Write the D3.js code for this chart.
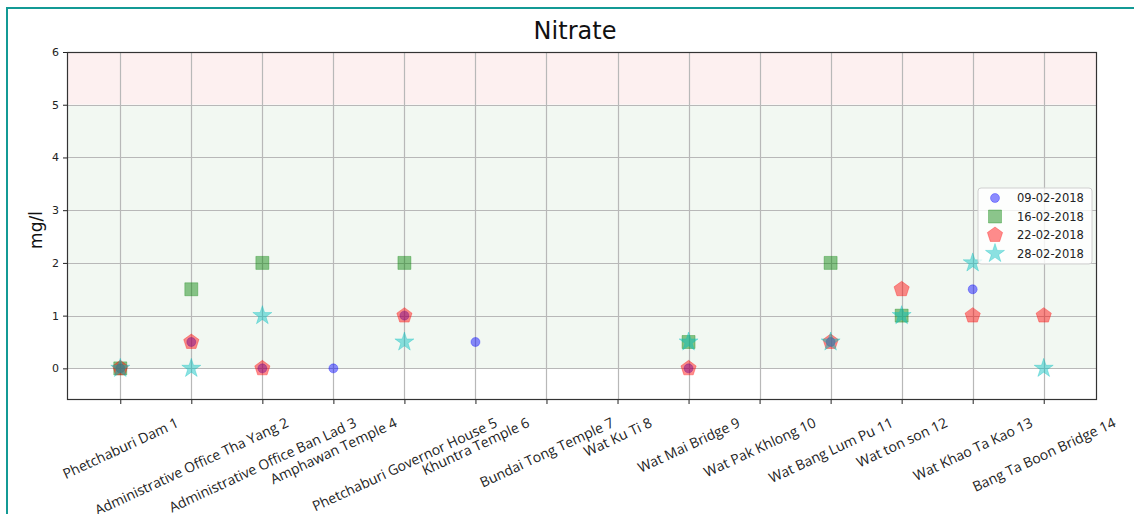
<!DOCTYPE html>
<html><head><meta charset="utf-8">
<script src="https://cdn.jsdelivr.net/npm/d3@7"></script>
<style>body{margin:0;background:#fff;}svg{display:block;}</style>
</head><body><svg id="c" width="1134" height="514"></svg>
<script>
const stations = ["Phetchaburi Dam 1","Administrative Office Tha Yang 2","Administrative Office Ban Lad 3","Amphawan Temple 4","Phetchaburi Governor House 5","Khuntra Temple 6","Bundai Tong Temple 7","Wat Ku Ti 8","Wat Mai Bridge 9","Wat Pak Khlong 10","Wat Bang Lum Pu 11","Wat ton son 12","Wat Khao Ta Kao 13","Bang Ta Boon Bridge 14"];
const dates = ["09-02-2018","16-02-2018","22-02-2018","28-02-2018"];
const v0902 = [0,0.5,0,0,1,0.5,null,null,0,null,0.5,null,1.5,null];
const v1602 = [0,1.5,2,null,2,null,null,null,0.5,null,2,1,null,null];
const v2202 = [0,0.5,0,null,1,null,null,null,0,null,0.5,1.5,1,1];
const v2802 = [0,0,1,null,0.5,null,null,null,0.5,null,0.5,1,2,0];
const yTicks = [0,1,2,3,4,5,6];
const title = "Nitrate", yLabel = "mg/l";

const svg = d3.select("#c");
const L=67,R=1097,T=52,B=400;
const x = d3.scaleLinear().domain([-0.75,13.75]).range([L,R]);
const y = d3.scaleLinear().domain([-0.6,6]).range([B,T]);

// frame
svg.append("rect").attr("x",7).attr("y",8).attr("width",1200).attr("height",600)
  .attr("fill","none").attr("stroke","#139a95").attr("stroke-width",2);

// bands
svg.append("rect").attr("x",L).attr("width",R-L).attr("y",y(6)).attr("height",y(5)-y(6)).attr("fill","#fdf0f0");
svg.append("rect").attr("x",L).attr("width",R-L).attr("y",y(5)).attr("height",y(0)-y(5)).attr("fill","#f2f8f2");

// grid
const g = svg.append("g");
g.selectAll(".vx").data(stations).join("line")
  .attr("x1",(d,i)=>Math.round(x(i))+0.5).attr("x2",(d,i)=>Math.round(x(i))+0.5)
  .attr("y1",T).attr("y2",B).attr("stroke","#b8b8b8").attr("stroke-width",1.2);
g.selectAll(".hy").data(yTicks).join("line")
  .attr("y1",d=>Math.round(y(d))+0.5).attr("y2",d=>Math.round(y(d))+0.5)
  .attr("x1",L).attr("x2",R).attr("stroke","#b8b8b8").attr("stroke-width",1.2);

// axes
const ya = svg.append("g").attr("transform",`translate(${L},0)`)
  .call(d3.axisLeft(y).tickValues(yTicks).tickSize(4).tickPadding(4).tickFormat(d3.format("d")));
ya.select(".domain").remove();
ya.selectAll("text").attr("font-family","DejaVu Sans").attr("font-size",11).attr("fill","#222");
ya.selectAll("line").attr("stroke","#222");

const xa = svg.append("g").attr("transform",`translate(0,${B})`)
  .call(d3.axisBottom(x).tickValues(d3.range(stations.length)).tickSize(4).tickFormat(""));
xa.select(".domain").remove();
xa.selectAll("line").attr("stroke","#222");

svg.append("rect").attr("x",L+0.5).attr("y",T+0.5).attr("width",R-L-1).attr("height",B-T-1)
  .attr("fill","none").attr("stroke","#333").attr("stroke-width",1.2);

// x labels rotated 25deg, centered at tick, top aligned
const ang = 25*Math.PI/180;
const xl = svg.append("g");
stations.forEach((s,i)=>{
  const t = xl.append("text").text(s).attr("font-family","Open Sans").attr("font-size",14)
    .attr("fill","#222").attr("text-anchor","middle").attr("dominant-baseline","central");
  const w = t.node().getComputedTextLength();
  const fh = 16;
  const bh = w*Math.sin(ang)+fh*Math.cos(ang);
  const cx = x(i), cy = B+14+bh/2;
  t.attr("transform",`translate(${cx},${cy}) rotate(-25)`);
});

// title & y label
svg.append("text").text(title).attr("x",575).attr("y",39).attr("text-anchor","middle")
  .attr("font-family","DejaVu Sans").attr("font-size",24).attr("fill","#111");
svg.append("text").text(yLabel).attr("transform",`translate(42,${(T+B)/2+4}) rotate(-90)`)
  .attr("text-anchor","middle").attr("font-family","DejaVu Sans").attr("font-size",17).attr("fill","#111");

// marker shapes
function poly(n, r, ri){
  const pts=[];
  const m = ri? 2*n : n;
  for(let k=0;k<m;k++){
    const a = -Math.PI/2 + k*Math.PI*2/m;
    const rr = ri ? (k%2? ri : r) : r;
    pts.push([rr*Math.cos(a), rr*Math.sin(a)]);
  }
  return "M"+pts.map(p=>p.join(",")).join("L")+"Z";
}
const shapes = [
  "M4.5,0A4.5,4.5 0 1,1 -4.5,0A4.5,4.5 0 1,1 4.5,0Z",
  "M-6.5,-6.5H6.5V6.5H-6.5Z",
  poly(5,8),
  poly(5,10,3.82)
];
const colors = ["#0000ff","#008000","#ff0000","#00bfbf"];
const series = [v0902,v1602,v2202,v2802];

series.forEach((vals,si)=>{
  const pts = vals.map((v,i)=>({i,v})).filter(d=>d.v!==null);
  svg.append("g").selectAll("path").data(pts).join("path")
    .attr("d",shapes[si])
    .attr("transform",d=>`translate(${x(d.i)},${y(d.v)})`)
    .attr("fill",colors[si]).attr("fill-opacity",0.45)
    .attr("stroke",colors[si]).attr("stroke-opacity",0.3).attr("stroke-width",1);
});

// legend
const lg = svg.append("g").attr("transform","translate(978,188)");
lg.append("rect").attr("width",114).attr("height",76).attr("rx",3)
  .attr("fill","#fff").attr("fill-opacity",0.8).attr("stroke","#d0d0d0");
dates.forEach((d,k)=>{
  const yy = 10+k*18.5;
  lg.append("path").attr("d",shapes[k]).attr("transform",`translate(17,${yy})`)
    .attr("fill",colors[k]).attr("fill-opacity",0.45)
    .attr("stroke",colors[k]).attr("stroke-opacity",0.3);
  lg.append("text").text(d).attr("x",39).attr("y",yy+4)
    .attr("font-family","DejaVu Sans").attr("font-size",11.5).attr("fill","#222");
});
</script></body></html>
